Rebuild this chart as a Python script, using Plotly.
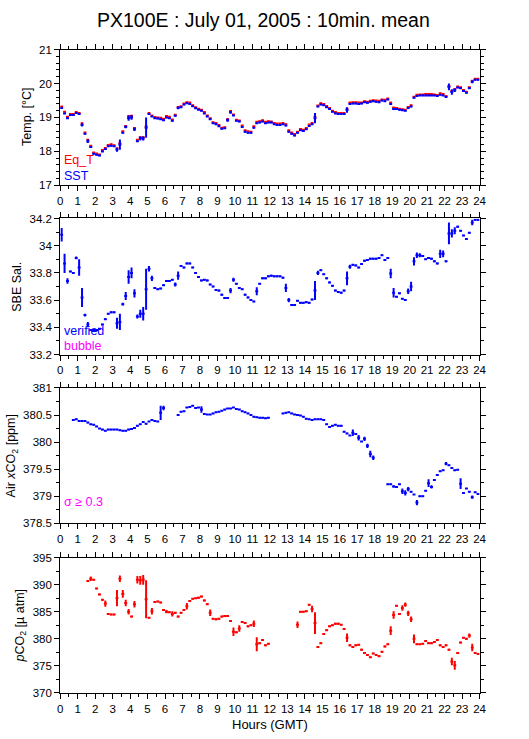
import plotly.graph_objects as go

# ---------------- data (10-minute means, 144 bins) ----------------
HOURS = [i / 6 + 1 / 12 for i in range(144)]

SST = [19.28,19.12,18.98,19.07,19.07,19.13,19.10,18.78,18.52,18.30,
       18.13,17.93,17.90,17.88,18.00,18.07,18.15,18.17,18.15,18.05,
       18.20,18.55,18.72,18.98,19.00,18.65,18.30,18.38,18.38,18.70,
       19.10,19.03,18.98,18.97,18.95,18.92,19.00,18.98,18.90,19.05,
       19.28,19.30,19.38,19.42,19.40,19.33,19.27,19.23,19.20,19.12,
       19.03,18.95,18.83,18.80,18.74,18.67,18.68,18.92,19.15,19.06,
       18.90,18.88,18.72,18.58,18.55,18.55,18.70,18.83,18.85,18.88,
       18.83,18.85,18.85,18.80,18.78,18.78,18.80,18.76,18.58,18.52,
       18.47,18.55,18.62,18.60,18.65,18.75,18.80,18.98,19.32,19.38,
       19.36,19.30,19.25,19.17,19.12,19.10,19.10,19.10,19.22,19.40,
       19.41,19.41,19.40,19.41,19.45,19.43,19.46,19.48,19.46,19.45,
       19.50,19.48,19.53,19.40,19.25,19.25,19.23,19.21,19.20,19.28,
       19.32,19.58,19.63,19.65,19.65,19.65,19.65,19.65,19.65,19.63,
       19.67,19.65,19.60,19.90,19.75,19.80,19.88,19.86,19.78,19.73,
       19.86,20.05,20.11,20.11]

EQ_T = [19.32,19.17,19.02,19.10,19.10,19.16,19.13,18.82,18.56,18.34,
        18.17,17.97,17.94,17.91,18.04,18.10,18.19,18.21,18.18,18.09,
        18.24,18.59,18.75,19.03,19.05,18.69,18.34,18.42,18.42,18.73,
        19.13,19.06,19.01,19.00,18.99,18.96,19.04,19.02,18.94,19.08,
        19.31,19.33,19.41,19.45,19.44,19.36,19.30,19.26,19.23,19.16,
        19.06,18.98,18.86,18.84,18.78,18.70,18.71,18.95,19.19,19.09,
        18.93,18.91,18.76,18.62,18.59,18.58,18.74,18.87,18.89,18.92,
        18.87,18.89,18.88,18.84,18.82,18.82,18.84,18.80,18.62,18.56,
        18.51,18.58,18.66,18.64,18.69,18.79,18.84,19.02,19.35,19.42,
        19.40,19.34,19.28,19.20,19.16,19.13,19.13,19.13,19.26,19.44,
        19.45,19.45,19.44,19.44,19.48,19.46,19.49,19.51,19.50,19.49,
        19.53,19.52,19.56,19.44,19.29,19.28,19.26,19.24,19.23,19.31,
        19.36,19.61,19.67,19.68,19.68,19.69,19.69,19.69,19.68,19.66,
        19.71,19.69,19.63,19.93,19.78,19.84,19.91,19.89,19.81,19.76,
        19.89,20.08,20.14,20.14]

SAL = [34.08,33.87,33.74,33.81,33.80,33.91,33.84,33.62,33.49,33.42,
       33.38,33.38,33.38,33.39,33.42,33.46,33.50,33.51,33.51,33.43,
       33.44,33.57,33.63,33.77,33.80,33.65,33.48,33.50,33.50,33.68,
       33.83,33.76,33.69,33.68,33.685,33.71,33.74,33.74,33.75,33.715,
       33.78,33.85,33.84,33.87,33.87,33.84,33.80,33.77,33.745,33.75,
       33.745,33.715,33.70,33.675,33.67,33.64,33.615,33.615,33.67,33.75,
       33.72,33.69,33.68,33.64,33.62,33.60,33.59,33.665,33.72,33.76,
       33.76,33.775,33.78,33.775,33.775,33.775,33.765,33.69,33.60,33.565,
       33.565,33.595,33.58,33.58,33.585,33.58,33.605,33.67,33.80,33.82,
       33.79,33.76,33.73,33.705,33.67,33.66,33.655,33.67,33.76,33.845,
       33.86,33.855,33.84,33.865,33.89,33.895,33.905,33.905,33.905,33.91,
       33.93,33.895,33.91,33.795,33.655,33.625,33.65,33.61,33.60,33.665,
       33.70,33.885,33.93,33.93,33.925,33.90,33.91,33.905,33.885,33.87,
       33.94,33.94,33.885,34.09,34.09,34.11,34.14,34.11,34.075,34.05,
       34.095,34.17,34.19,34.19]

N = None
AIR_XCO2 = [N,N,N,N,380.41,380.42,380.39,380.39,380.39,380.36,
            380.33,380.32,380.29,380.25,380.23,380.21,380.23,380.23,380.23,380.23,
            380.22,380.21,380.21,380.23,380.24,380.26,380.30,380.33,380.37,380.34,
            380.38,380.41,380.39,380.38,380.54,380.63,N,N,N,N,
            380.50,380.56,380.57,380.64,380.65,380.67,380.63,380.64,380.60,380.52,
            380.51,380.51,380.53,380.55,380.56,380.58,380.60,380.62,380.62,380.64,
            380.61,380.60,380.57,380.55,380.53,380.50,380.47,380.46,380.45,380.45,
            380.44,380.45,N,N,N,N,380.53,380.54,380.55,380.53,
            380.51,380.50,380.49,380.47,380.43,380.42,380.41,380.42,380.42,380.42,
            380.41,380.33,380.28,380.30,380.32,380.30,380.30,380.19,380.16,380.12,
            380.17,380.15,380.08,380.01,380.06,379.93,379.78,379.71,N,N,
            N,N,379.22,379.22,379.18,379.17,379.22,379.09,379.06,379.13,
            379.08,379.03,378.88,379.00,379.00,379.10,379.24,379.17,379.30,379.39,
            379.46,379.48,379.60,379.57,379.52,379.48,379.49,379.23,379.06,379.14,
            379.08,378.98,379.07,379.04]

PCO2 = [N,N,N,N,N,N,N,N,N,390.7,
        391.1,390.9,389.3,388.2,387.2,386.5,384.6,384.5,384.5,387.5,
        391.1,388.3,386.6,385.0,384.1,386.4,390.9,390.8,390.9,387.3,
        383.9,385.1,386.8,386.9,386.7,385.3,385.0,384.9,384.6,384.8,
        384.1,384.8,385.3,386.0,387.0,387.4,387.5,387.6,387.8,387.1,
        386.4,384.8,383.7,383.6,383.7,384.1,384.2,384.2,383.3,381.3,
        381.2,381.9,383.1,382.9,382.3,382.5,382.8,379.0,379.2,379.8,
        378.8,379.1,N,N,N,N,N,N,N,N,
        N,382.6,385.0,385.0,385.1,386.3,385.5,382.9,378.5,379.2,
        380.9,381.6,382.3,382.5,382.8,382.8,382.6,381.8,380.2,378.8,
        378.5,378.8,378.9,378.0,377.4,377.0,376.6,377.3,377.0,376.8,
        377.6,378.6,379.0,381.5,384.4,386.1,384.6,385.7,386.3,384.7,
        383.6,380.0,379.0,379.0,379.1,379.6,379.2,379.2,379.4,379.8,
        378.8,378.5,378.8,378.0,375.8,375.1,377.4,379.3,380.2,380.0,
        380.6,378.4,377.4,377.2]

# standard deviations (typical value + the larger ones)
SST_SD_TYPICAL = 0.02
SST_SD_LARGE = {6: 0.03, 7: 0.05, 9: 0.05, 19: 0.06, 20: 0.15, 22: 0.04, 23: 0.08,
                24: 0.07, 25: 0.05, 27: 0.06, 28: 0.06, 29: 0.30, 40: 0.04, 57: 0.05,
                58: 0.04, 87: 0.15, 98: 0.08, 133: 0.10, 134: 0.08, 135: 0.05, 141: 0.04}
EQT_SD_TYPICAL = 0.012
EQT_SD_LARGE = {7: 0.04, 23: 0.04, 29: 0.05}
SAL_SD_TYPICAL = 0.006
SAL_SD_LARGE = {0: 0.05, 1: 0.07, 2: 0.02, 5: 0.01, 6: 0.06, 7: 0.07, 8: 0.01, 9: 0.02,
                19: 0.04, 20: 0.06, 21: 0.01, 22: 0.03, 23: 0.05, 24: 0.04, 25: 0.03,
                26: 0.015, 27: 0.03, 28: 0.05, 29: 0.15, 30: 0.02, 31: 0.02, 39: 0.015,
                40: 0.03, 58: 0.02, 59: 0.015, 67: 0.03, 77: 0.03, 78: 0.015, 87: 0.07,
                88: 0.015, 98: 0.05, 99: 0.015, 113: 0.035, 114: 0.035, 119: 0.02,
                120: 0.035, 121: 0.03, 122: 0.02, 123: 0.015, 130: 0.03, 131: 0.025,
                133: 0.08, 134: 0.03, 135: 0.025, 141: 0.02}
XCO2_SD_TYPICAL = 0.01
XCO2_SD_LARGE = {34: 0.13, 35: 0.04, 48: 0.06, 100: 0.06, 102: 0.05, 104: 0.04,
                 105: 0.04, 106: 0.06, 107: 0.04, 114: 0.02, 117: 0.05, 118: 0.05,
                 119: 0.04, 122: 0.05, 126: 0.07, 127: 0.03, 132: 0.03, 137: 0.10,
                 141: 0.03}
PCO2_SD_TYPICAL = 0.15
PCO2_SD_LARGE = {10: 0.4, 15: 0.6, 19: 1.5, 20: 0.6, 21: 0.7, 22: 0.6, 23: 0.5, 25: 0.6,
                 26: 0.7, 27: 0.8, 28: 0.9, 29: 3.5, 31: 0.6, 36: 0.3, 38: 0.5, 43: 0.6,
                 51: 0.6, 59: 0.8, 61: 0.6, 66: 0.6, 67: 1.3, 81: 0.6, 86: 0.6, 87: 2.0,
                 98: 0.8, 113: 0.8, 114: 0.7, 117: 0.5, 118: 0.4, 119: 0.5, 120: 0.5,
                 121: 0.8, 134: 0.7, 135: 0.8, 140: 0.4, 141: 0.7}

X_TICKS = list(range(0, 25))
Y_RANGES = [(17, 21), (33.2, 34.2), (378.5, 381), (370, 395)]
Y_DTICK = [1, 0.2, 0.5, 5]
Y_MINOR = [0.2, 0.1, 0.25, 2.5]
Y_TITLES = ["Temp. [°C]", "SBE Sal.", "Air <i>x</i>CO<sub>2</sub> [ppm]",
            "<i>p</i>CO<sub>2</sub> [µ atm]"]
TITLE = "PX100E : July 01, 2005 : 10min. mean"


def sd_array(typical, large):
    return [large.get(i, typical) for i in range(len(HOURS))]


# ---------------- figure ----------------
W, H = 529, 739
FONT = "Liberation Sans, Arial, Helvetica, sans-serif"
RED, BLUE, MAG = "#ff0000", "#0000ff", "#ff00ff"
XL, XR = 58.3 / W, 485.7 / W
PANELS = [(44.3, 182.3), (216.0, 354.3), (388.3, 525.7), (560.7, 698.3)]
YTITLE_X = [25, 13.5, 9, 18.5]

fig = go.Figure()


def add_series(k, y, sd, color):
    ax = "" if k == 1 else str(k)
    fig.add_trace(go.Scatter(
        x=HOURS, y=y, mode="markers", xaxis="x" + ax, yaxis="y" + ax,
        marker=dict(size=1, color=color),
        error_y=dict(type="data", array=sd, symmetric=True, color=color, thickness=2, width=0),
        error_x=dict(type="constant", value=1 / 12, color=color, thickness=2, width=0),
        showlegend=False, hoverinfo="x+y"))


add_series(1, EQ_T, sd_array(EQT_SD_TYPICAL, EQT_SD_LARGE), RED)
add_series(1, SST, sd_array(SST_SD_TYPICAL, SST_SD_LARGE), BLUE)
add_series(2, SAL, sd_array(SAL_SD_TYPICAL, SAL_SD_LARGE), BLUE)
add_series(3, AIR_XCO2, sd_array(XCO2_SD_TYPICAL, XCO2_SD_LARGE), BLUE)
add_series(4, PCO2, sd_array(PCO2_SD_TYPICAL, PCO2_SD_LARGE), RED)

layout = dict(
    width=W, height=H, margin=dict(l=0, r=0, t=0, b=0),
    paper_bgcolor="white", plot_bgcolor="white",
    font=dict(family=FONT, size=12, color="black"),
    showlegend=False,
)

tickfont = dict(family=FONT, size=11.5, color="black")
annotations = []
for k, (top, bot) in enumerate(PANELS, start=1):
    ax = "" if k == 1 else str(k)
    dom = [1 - bot / H, 1 - top / H]
    lo, hi = Y_RANGES[k - 1]
    layout["xaxis" + ax] = dict(
        domain=[XL, XR], range=[0, 24], anchor="y" + ax,
        tickmode="array", tickvals=X_TICKS, ticktext=[str(v) for v in X_TICKS],
        ticks="outside", ticklen=5, tickwidth=1, tickcolor="black",
        minor=dict(dtick=0.5, tick0=0, ticks="outside", ticklen=3, tickwidth=1, tickcolor="black"),
        showline=True, linecolor="black", linewidth=1, mirror="ticks",
        showgrid=False, zeroline=False, tickfont=tickfont, fixedrange=True)
    layout["yaxis" + ax] = dict(
        domain=dom, range=[lo, hi], anchor="x" + ax, tick0=lo, dtick=Y_DTICK[k - 1],
        ticks="outside", ticklen=5, tickwidth=1, tickcolor="black",
        minor=dict(dtick=Y_MINOR[k - 1], tick0=lo, ticks="outside", ticklen=3,
                   tickwidth=1, tickcolor="black"),
        showline=True, linecolor="black", linewidth=1, mirror="ticks",
        showgrid=False, zeroline=False, tickfont=tickfont, fixedrange=True)
    layout["yaxis" + str(k + 4)] = dict(
        overlaying="y" + ax, side="right", anchor="x" + ax, range=[lo, hi],
        tick0=lo, dtick=Y_DTICK[k - 1], ticks="outside", ticklen=6,
        tickcolor="rgba(0,0,0,0)", showline=False, showgrid=False, zeroline=False,
        tickfont=tickfont, fixedrange=True)
    annotations.append(dict(
        text=Y_TITLES[k - 1], xref="paper", yref="paper", x=YTITLE_X[k - 1] / W,
        y=1 - (top + bot) / 2 / H, textangle=-90, showarrow=False,
        xanchor="center", yanchor="middle", font=dict(family=FONT, size=12.5, color="black")))


# in-panel labels
def label(text, color, xpx, ypx, size=12.5):
    annotations.append(dict(text=text, xref="paper", yref="paper", x=xpx / W, y=1 - ypx / H,
                            xanchor="left", yanchor="middle", showarrow=False,
                            font=dict(family=FONT, size=size, color=color)))


label("Eq_T", RED, 60, 157)
label("SST", BLUE, 60, 173)
label("verified", BLUE, 60, 330)
label("bubble", MAG, 60, 346)
label("σ ≥ 0.3", MAG, 60, 504)

annotations.append(dict(text="Hours (GMT)", xref="paper", yref="paper", x=272 / W, y=1 - 730 / H,
                        xanchor="center", yanchor="middle", showarrow=False,
                        font=dict(family=FONT, size=13, color="black")))
annotations.append(dict(text=TITLE, xref="paper", yref="paper", x=266 / W, y=1 - 14 / H,
                        xanchor="center", yanchor="middle", showarrow=False,
                        font=dict(family=FONT, size=19.5, color="black")))
layout["annotations"] = annotations

fig.update_layout(**layout)
fig.write_html(
    "out.html",
    config={"displayModeBar": False},
    post_script="document.body.style.margin='0px';document.body.style.padding='0px';"
                "document.documentElement.style.overflow='hidden';",
)
